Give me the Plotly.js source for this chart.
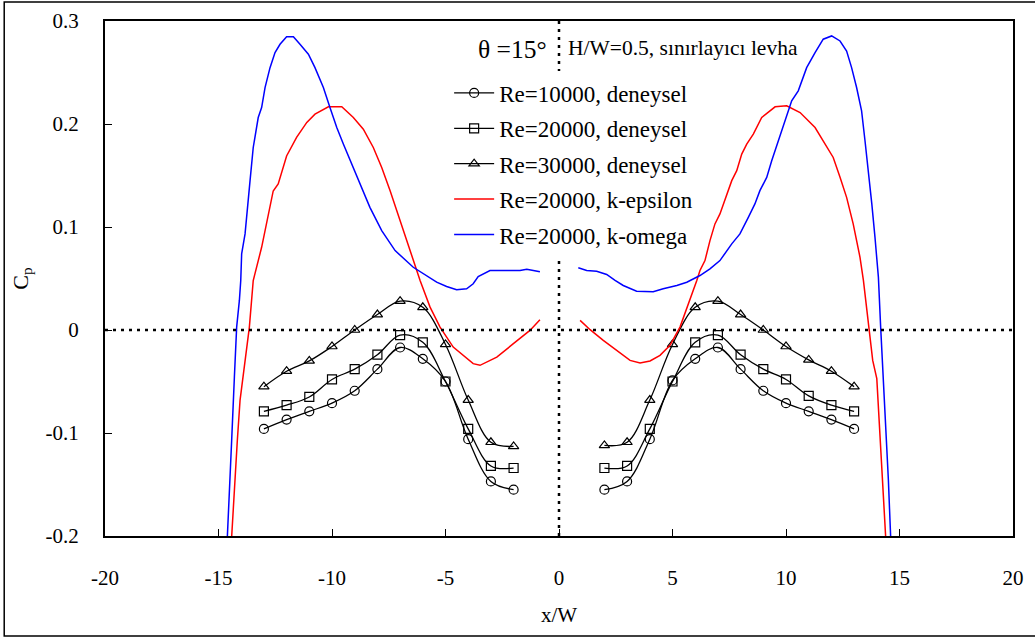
<!DOCTYPE html>
<html>
<head>
<meta charset="utf-8">
<script src="https://cdn.plot.ly/plotly-3.0.1.min.js"></script>
<style>
html,body{margin:0;padding:0;background:#fff;}
#chart{width:1035px;height:639px;}
</style>
</head>
<body>
<div id="chart"></div>
<script>
// ---- Experimental data (x/W, Cp) ----
const xExpLeft  = [-13,-12,-11,-10,-9,-8,-7,-6,-5,-4,-3,-2];
const xExpRight = [2,3,4,5,6,7,8,9,10,11,12,13];
const re10kLeft  = [-0.096,-0.087,-0.079,-0.071,-0.059,-0.038,-0.017,-0.028,-0.050,-0.106,-0.147,-0.155];
const re10kRight = [-0.155,-0.147,-0.106,-0.049,-0.028,-0.017,-0.038,-0.059,-0.071,-0.079,-0.087,-0.096];
const re20kLeft  = [-0.079,-0.073,-0.065,-0.048,-0.038,-0.024,-0.005,-0.012,-0.050,-0.096,-0.132,-0.134];
const re20kRight = [-0.134,-0.132,-0.096,-0.050,-0.012,-0.005,-0.024,-0.038,-0.048,-0.064,-0.073,-0.079];
const re30kLeft  = [-0.055,-0.040,-0.030,-0.016,0.000,0.015,0.028,0.022,-0.014,-0.068,-0.109,-0.113];
const re30kRight = [-0.112,-0.109,-0.068,-0.014,0.022,0.028,0.015,0.000,-0.016,-0.029,-0.040,-0.055];

// ---- k-epsilon (Re=20000) ----
const kepsXLeft = [-14.42,-14.35,-14.17,-14.05,-13.93,-13.64,-13.47,-13.25,-13.10,-12.59,-12.37,-12.0,-11.56,-11.11,-10.75,-10.16,-9.57,-9.06,-8.62,-8.18,-7.81,-7.44,-7.0,-6.56,-6.12,-5.68,-5.24,-4.66,-3.78,-3.48,-2.74,-2.01,-1.28,-0.84];
const kepsYLeft = [-0.2007,-0.1716,-0.107,-0.068,-0.0456,0.0028,0.048,0.0674,0.0803,0.135,0.1418,0.169,0.187,0.2015,0.2096,0.2167,0.2167,0.2063,0.195,0.1772,0.1578,0.1353,0.1062,0.0771,0.0481,0.0222,0.0028,-0.0166,-0.0327,-0.0343,-0.0263,-0.0133,-0.0004,0.010];
const kepsXRight = [0.93,1.37,1.95,2.54,3.13,3.57,4.01,4.45,4.89,5.33,5.77,6.07,6.21,6.43,6.65,6.87,7.09,7.31,7.61,7.83,8.05,8.27,8.56,8.93,9.52,10.03,10.62,11.28,11.72,12.08,12.38,12.67,12.96,13.26,13.41,13.63,13.82,14.0,14.11,14.22,14.33,14.39];
const kepsYRight = [0.0093,0.0003,-0.0101,-0.0198,-0.0295,-0.0321,-0.0301,-0.0246,-0.0149,0.0028,0.0287,0.0481,0.0578,0.0674,0.0868,0.103,0.1127,0.1256,0.145,0.1547,0.1708,0.1805,0.1902,0.2063,0.2167,0.2176,0.2111,0.1966,0.1805,0.1675,0.1482,0.1288,0.103,0.0706,0.0481,0.0028,-0.0295,-0.0472,-0.0908,-0.1232,-0.1716,-0.2007];

// ---- k-omega (Re=20000) ----
const komXLeft = [-14.61,-14.52,-14.42,-14.3,-14.2,-14.08,-14.02,-13.98,-13.83,-13.61,-13.47,-13.25,-13.10,-12.95,-12.73,-12.51,-12.29,-12.0,-11.70,-11.41,-11.04,-10.75,-10.38,-10.09,-9.79,-9.50,-9.06,-8.62,-8.33,-7.81,-7.22,-6.42,-5.83,-5.39,-4.95,-4.51,-4.07,-3.78,-3.56,-3.19,-3.04,-1.72,-1.42,-1.13,-0.84];
const komYLeft = [-0.2007,-0.162,-0.107,-0.0456,0.0028,0.0287,0.048,0.0739,0.0933,0.145,0.1772,0.2063,0.216,0.2354,0.2547,0.2693,0.2774,0.2848,0.2848,0.2774,0.2677,0.2547,0.2354,0.216,0.1966,0.1805,0.1578,0.1353,0.1191,0.0965,0.0771,0.0609,0.0529,0.0464,0.0422,0.039,0.04,0.0449,0.0519,0.0561,0.0578,0.0578,0.059,0.0578,0.0565];
const komXRight = [0.85,1.22,1.66,2.10,2.47,2.83,3.42,4.15,4.59,5.19,5.63,6.21,6.65,7.09,7.61,7.97,8.34,8.63,8.85,9.15,9.37,9.66,10.03,10.25,10.54,10.91,11.28,11.64,12.01,12.38,12.67,12.89,13.11,13.33,13.48,13.63,13.78,13.92,14.07,14.17,14.29,14.41,14.51,14.61];
const komYRight = [0.0604,0.0578,0.0571,0.0539,0.0481,0.0432,0.0377,0.0371,0.04,0.0432,0.0464,0.0529,0.0594,0.0674,0.0836,0.0933,0.1094,0.1224,0.1353,0.1482,0.1643,0.1837,0.2063,0.2225,0.2322,0.2547,0.2693,0.2823,0.2855,0.2806,0.2709,0.2547,0.2354,0.2128,0.1837,0.1547,0.1224,0.09,0.0513,0.0028,-0.0488,-0.0973,-0.1457,-0.2007];

// ---- labels ----
const seriesNames = ['Re=10000, deneysel','Re=20000, deneysel','Re=30000, deneysel','Re=20000, k-epsilon','Re=20000, k-omega'];
const xTickVals = [-20,-15,-10,-5,0,5,10,15,20];
const xTickLabels = ['-20','-15','-10','-5','0','5','10','15','20'];
const yTickVals = [-0.2,-0.1,0,0.1,0.2,0.3];
const yTickLabels = ['-0.2','-0.1','0','0.1','0.2','0.3'];
const titleLeft = 'θ =15°';
const titleRight = 'H/W=0.5, sınırlayıcı levha';
const xTitle = 'x/W';
const yTitle = 'C<sub>p</sub>';

const FONT = '"Liberation Serif"';
const join = (a, b) => a.concat([null], b);

function expTrace(name, yl, yr, symbol, grp) {
  return {
    x: join(xExpLeft, xExpRight), y: join(yl, yr), name: name, legendgroup: grp,
    mode: 'lines+markers', connectgaps: false,
    line: {color: '#000', width: 1.3, shape: 'spline', smoothing: 1},
    marker: {symbol: symbol, size: 9, color: '#000', line: {color: '#000', width: 1.2}}
  };
}

const traces = [
  expTrace(seriesNames[0], re10kLeft, re10kRight, 'circle-open', 'a'),
  expTrace(seriesNames[1], re20kLeft, re20kRight, 'square-open', 'b'),
  expTrace(seriesNames[2], re30kLeft, re30kRight, 'triangle-up-open', 'c'),
  {x: join(kepsXLeft, kepsXRight), y: join(kepsYLeft, kepsYRight), name: seriesNames[3], legendgroup: 'd',
   mode: 'lines', connectgaps: false, line: {color: '#ff0000', width: 1.5}},
  {x: join(komXLeft, komXRight), y: join(komYLeft, komYRight), name: seriesNames[4], legendgroup: 'e',
   mode: 'lines', connectgaps: false, line: {color: '#0000ff', width: 1.5}}
];

const layout = {
  width: 1035, height: 639,
  margin: {l: 105, r: 22, t: 21, b: 103},
  paper_bgcolor: '#fff', plot_bgcolor: '#fff',
  font: {family: FONT, size: 21, color: '#000'},
  showlegend: true,
  legend: {
    x: 0.379, y: 0.902, xanchor: 'left', yanchor: 'top',
    bgcolor: '#fff', borderwidth: 0,
    font: {family: FONT, size: 23, color: '#000'},
    tracegroupgap: 2.5, itemwidth: 40
  },
  xaxis: {
    range: [-20, 20], tickvals: xTickVals, ticktext: xTickLabels,
    ticks: 'inside', ticklen: 7, tickwidth: 1, tickcolor: '#000',
    showline: true, linecolor: '#000', linewidth: 2, mirror: true,
    showgrid: false, zeroline: false, ticklabelstandoff: 22,
    tickfont: {family: FONT, size: 21},
    title: {text: xTitle, font: {family: FONT, size: 21}, standoff: 18}
  },
  yaxis: {
    range: [-0.2, 0.3], tickvals: yTickVals, ticktext: yTickLabels,
    ticks: 'inside', ticklen: 7, tickwidth: 1, tickcolor: '#000',
    showline: true, linecolor: '#000', linewidth: 2, mirror: true,
    showgrid: false, zeroline: false, ticklabelstandoff: 20,
    tickfont: {family: FONT, size: 21},
    title: {text: yTitle, font: {family: FONT, size: 22}, standoff: 11}
  },
  shapes: [
    {type: 'line', xref: 'x', yref: 'y', x0: -20, x1: 20, y0: 0, y1: 0,
     line: {color: '#000', width: 2.5, dash: '3px,5px'}},
    {type: 'line', xref: 'x', yref: 'y', x0: 0, x1: 0, y0: -0.2, y1: 0.3,
     line: {color: '#000', width: 2.5, dash: '3px,5px'}},
    {type: 'rect', xref: 'paper', yref: 'paper', x0: -0.111, x1: 1.05, y0: -0.194, y1: 1.037,
     line: {color: '#000', width: 1.5}, fillcolor: 'rgba(0,0,0,0)'}
  ],
  annotations: [
    {text: titleLeft, xref: 'paper', yref: 'paper', x: 0.489, y: 0.944, xanchor: 'right', yanchor: 'middle',
     showarrow: false, font: {family: FONT, size: 25.5}, bgcolor: '#fff'},
    {text: titleRight, xref: 'paper', yref: 'paper', x: 0.508, y: 0.947, xanchor: 'left', yanchor: 'middle',
     showarrow: false, font: {family: FONT, size: 21.5}}
  ]
};

Plotly.newPlot('chart', traces, layout, {displayModeBar: false, responsive: false});
</script>
</body>
</html>
